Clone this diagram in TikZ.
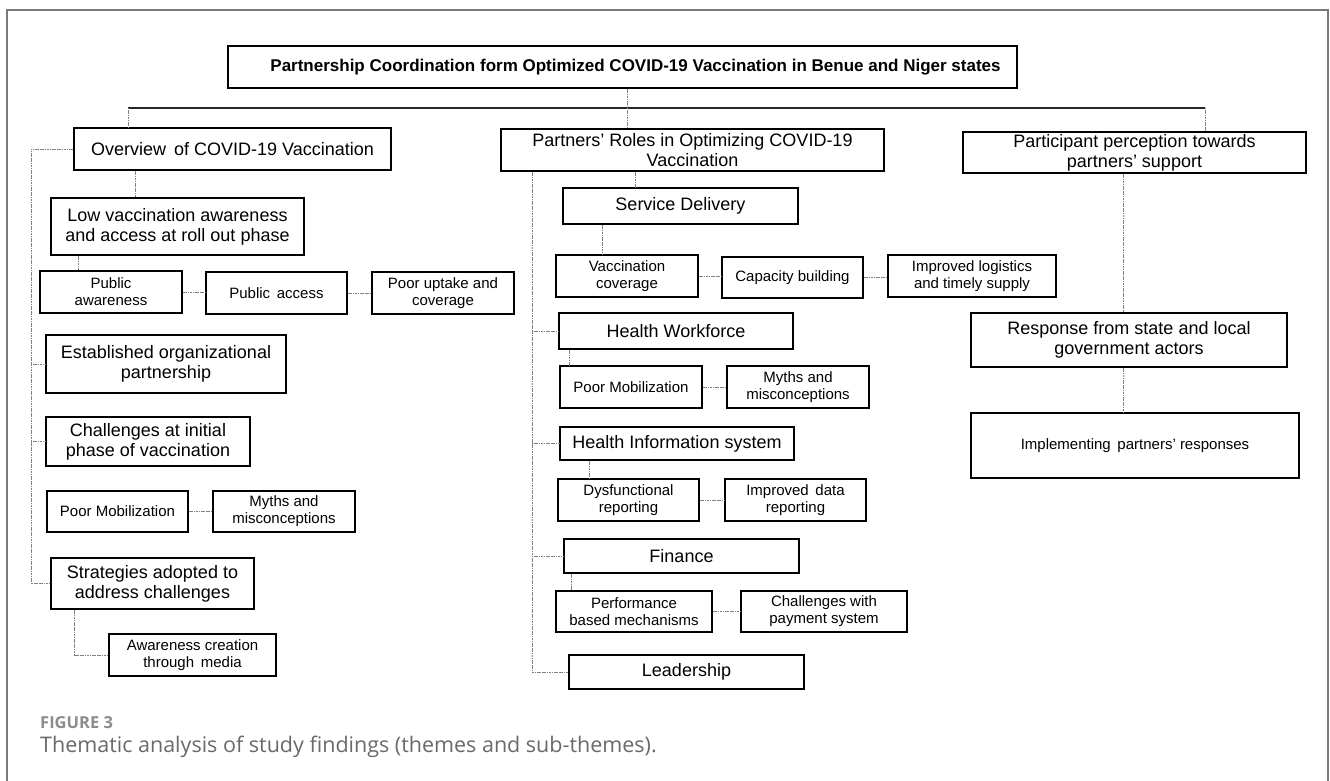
\documentclass[tikz,border=0pt]{standalone}
\usepackage{fontspec}
\setmainfont{Liberation Sans}
\newfontfamily\capfont{Open Sans}
\definecolor{framegray}{HTML}{7A7A7A}
\definecolor{capgray}{HTML}{6A6A6A}
\definecolor{figgray}{HTML}{8C8C8C}
\begin{document}
\begin{tikzpicture}[x=1pt,y=-1pt,
  box/.style={draw=black,line width=1.5pt,inner sep=1pt,align=center,text=black},
  lg/.style={box,font=\fontsize{18}{20}\selectfont},
  sm/.style={box,font=\fontsize{15}{17}\selectfont},
  bus/.style={draw=black!85,line width=1.5pt},
  thinc/.style={draw=black!50,line width=0.7pt,dash pattern=on 1.2pt off 0.5pt}]
\useasboundingbox (0,0) rectangle (1330,780);
\clip (0,0) rectangle (1330,780);
\fill[white] (0,0) rectangle (1330,780);
\draw[framegray,line width=2pt] (7,10) rectangle (1328,800);

% title
\node[box,minimum width=789,minimum height=42,font=\fontsize{17}{19}\bfseries\selectfont] (title) at (622.5,67) {\hspace*{26pt}Partnership Coordination form Optimized COVID-19 Vaccination in Benue and Niger states};

% level 1
\node[lg,minimum width=317,minimum height=42] (overview) at (232.5,149) {Overview\, of COVID-19 Vaccination};
\node[lg,minimum width=383,minimum height=42] (partners) at (692.5,150) {Partners' Roles in Optimizing COVID-19\\Vaccination};
\node[lg,minimum width=343,minimum height=41] (participant) at (1134.5,152.5) {Participant perception towards\\partners' support};

% left branch
\node[lg,minimum width=253,minimum height=57] (lowvacc) at (177.5,226.5) {Low vaccination awareness\\and access at roll out phase};
\node[sm,minimum width=142,minimum height=42] (pubaware) at (111,292) {Public\\awareness};
\node[sm,minimum width=141,minimum height=42] (pubaccess) at (276.5,293) {Public\, access};
\node[sm,minimum width=142,minimum height=42] (pooruptake) at (443,293) {Poor uptake and\\coverage};
\node[lg,minimum width=240,minimum height=58] (established) at (166,364) {Established organizational\\partnership};
\node[lg,minimum width=204,minimum height=49] (challenges) at (148,441.5) {Challenges at initial\\phase of vaccination};
\node[sm,minimum width=141,minimum height=41] (poormobA) at (117.5,511.5) {Poor Mobilization};
\node[sm,minimum width=142,minimum height=41] (mythsA) at (284,511.5) {Myths and\\misconceptions};
\node[lg,minimum width=203,minimum height=51] (strategies) at (152.5,583.5) {Strategies adopted to\\address challenges};
\node[sm,minimum width=167,minimum height=42] (awareness) at (192.5,655) {Awareness creation\\through\, media};

% middle branch
\node[lg,minimum width=235,minimum height=36] (service) at (680.5,206) {Service Delivery};
\node[sm,minimum width=142,minimum height=42] (vaccov) at (627,276) {Vaccination\\coverage};
\node[sm,minimum width=141,minimum height=41] (capacity) at (792.5,277.5) {Capacity building};
\node[sm,minimum width=168,minimum height=42] (logistics) at (972,276) {Improved logistics\\and timely supply};
\node[lg,minimum width=234,minimum height=36] (workforce) at (676,331) {Health Workforce};
\node[sm,minimum width=142,minimum height=42] (poormobB) at (631,387) {Poor Mobilization};
\node[sm,minimum width=142,minimum height=42] (mythsB) at (798,387) {Myths and\\misconceptions};
\node[lg,minimum width=234,minimum height=33] (his) at (677,443.5) {Health Information system};
\node[sm,minimum width=141,minimum height=42] (dysf) at (628.5,500) {Dysfunctional\\reporting};
\node[sm,minimum width=141,minimum height=42] (improveddata) at (795.5,500) {Improved\, data\\reporting};
\node[lg,minimum width=235,minimum height=34] (finance) at (681.5,556) {Finance};
\node[sm,minimum width=156,minimum height=41] (performance) at (634,611.5) {Performance\\based mechanisms};
\node[sm,minimum width=166,minimum height=41] (payment) at (824,611.5) {Challenges with\\payment system};
\node[lg,minimum width=235,minimum height=34] (leadership) at (686.5,672) {Leadership};

% right branch
\node[lg,minimum width=316,minimum height=54] (response) at (1129,340) {Response from state and local\\government actors};
\node[sm,minimum width=328,minimum height=65] (implementing) at (1135,445.5) {Implementing\, partners' responses};

% coordinates
\coordinate (busL) at (128,108);
\coordinate (busM) at (627,108);
\coordinate (busR) at (1205,108);
\coordinate (lsp) at (31,0);
\coordinate (msp) at (532,0);
\coordinate (xA) at (135,0);
\coordinate (xB) at (78,0);
\coordinate (xC) at (74,0);
\coordinate (xD) at (635,0);
\coordinate (xE) at (602,0);
\coordinate (xF) at (569,0);
\coordinate (xG) at (589,0);
\coordinate (xH) at (571,0);
\coordinate (xR) at (1123,0);

% bus
\draw[bus] (busL) -- (busR);
\draw[thinc] (title.south -| busM) -- (busM);
\draw[thinc] (busL) -- (overview.north -| busL);
\draw[thinc] (busM) -- (partners.north -| busM);
\draw[thinc] (busR) -- (participant.north -| busR);

% left connectors
\draw[thinc] (overview.west) -| (lsp |- strategies.west) -- (strategies.west);
\draw[thinc] (lsp |- established.west) -- (established.west);
\draw[thinc] (lsp |- challenges.west) -- (challenges.west);
\draw[thinc] (overview.south -| xA) -- (lowvacc.north -| xA);
\draw[thinc] (lowvacc.south -| xB) -- (pubaware.north -| xB);
\draw[thinc] (pubaware.east) -- (pubaccess.west |- pubaware.east);
\draw[thinc] (pubaccess.east) -- (pooruptake.west |- pubaccess.east);
\draw[thinc] (poormobA.east) -- (mythsA.west);
\draw[thinc] (strategies.south -| xC) |- (awareness.west);

% middle connectors
\draw[thinc] (partners.south -| msp) -- (msp |- leadership.west) -- (leadership.west);
\draw[thinc] (msp |- workforce.west) -- (workforce.west);
\draw[thinc] (msp |- his.west) -- (his.west);
\draw[thinc] (msp |- finance.west) -- (finance.west);
\draw[thinc] (partners.south -| xD) -- (service.north -| xD);
\draw[thinc] (service.south -| xE) -- (vaccov.north -| xE);
\draw[thinc] (vaccov.east) -- (capacity.west |- vaccov.east);
\draw[thinc] (capacity.east) -- (logistics.west |- capacity.east);
\draw[thinc] (workforce.south -| xF) -- (poormobB.north -| xF);
\draw[thinc] (poormobB.east) -- (mythsB.west);
\draw[thinc] (his.south -| xG) -- (dysf.north -| xG);
\draw[thinc] (dysf.east) -- (improveddata.west);
\draw[thinc] (finance.south -| xH) -- (performance.north -| xH);
\draw[thinc] (performance.east) -- (payment.west);

% right connectors
\draw[thinc] (participant.south -| xR) -- (response.north -| xR);
\draw[thinc] (response.south -| xR) -- (implementing.north -| xR);

% caption
\node[anchor=west,inner sep=0,text=figgray,font=\capfont\bfseries\fontsize{16.5}{18}\selectfont] (figlabel) at (40,723) {FIGURE 3};
\node[anchor=west,inner sep=0,text=capgray,font=\capfont\fontsize{21.5}{24}\selectfont] (caption) at (40,747) {Thematic analysis of study findings (themes and sub-themes).};
\end{tikzpicture}
\end{document}
